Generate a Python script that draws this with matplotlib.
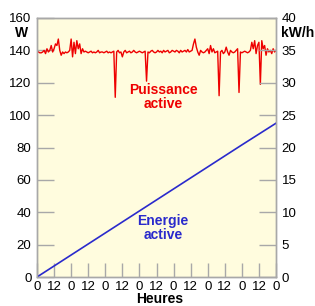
import numpy as np
import matplotlib
matplotlib.use("Agg")
import matplotlib.pyplot as plt

# Heures (0 a 168, une valeur par heure)
heures = list(range(0, 169))

# Puissance active (W), lue heure par heure
puissance = [
    139.5, 139, 138.5, 138.5, 139, 140, 138, 141, 139, 140, 143, 139,
    141, 144, 143, 147, 140, 137, 139, 138, 139, 138.5, 139, 140,
    147, 136, 145, 138, 146, 141, 144, 138, 141, 139, 139.5, 139,
    138.5, 139, 139.5, 138.5, 139, 138.5, 139, 140, 138.5, 139, 139, 138.5,
    139, 139.5, 138.5, 139, 138.5, 139, 139.5, 111, 139, 140, 138.5, 139,
    136, 139, 140, 138.5, 139, 139.5, 138.5, 139, 140, 139, 138.5, 139,
    139.5, 139, 138.5, 139, 139.5, 121, 139, 138.5, 139.5, 140, 139, 138.5,
    139, 140, 139, 139.5, 138.5, 140, 139, 139.5, 140, 138.5, 139, 140,
    139.5, 139, 140, 139.5, 138.5, 140, 139, 139.5, 140, 139, 140.5, 139,
    139.5, 140, 144, 147, 142, 139, 137, 140, 139, 138.5, 139, 140,
    141, 138, 143, 139, 141, 138.5, 139, 139.5, 112, 139, 140, 138,
    139, 142, 139, 137, 140, 139, 138.5, 139, 140, 141, 114, 139,
    138.5, 139, 139.5, 139, 138.5, 139, 140, 145, 141, 146, 138, 143,
    145, 119, 146, 141, 143, 137, 141, 139, 140, 138, 141, 139,
    140,
]

# Energie active (kW/h), cumul par jour
heures_jour = [0, 24, 48, 72, 96, 120, 144, 168]
energie = [0, 3.4, 6.8, 10.2, 13.6, 17.0, 20.4, 23.75]

ticks_x = list(range(0, 169, 12))
labels_x = ["0" if t % 24 == 0 else "12" for t in ticks_x]

plt.rcParams["font.family"] = ["Liberation Sans", "DejaVu Sans"]

fig = plt.figure(figsize=(3.15, 3.06), dpi=100)
ax = fig.add_axes([37 / 315, 29 / 306, 239 / 315, 259 / 306])
ax.set_facecolor("#FFFCDE")
ax2 = ax.twinx()

ax.plot(heures, puissance, color="#EE0000", lw=1.0)
ax2.plot(heures_jour, energie, color="#2A2ACC", lw=1.2)

ax.set_xlim(0, 168)
ax.set_ylim(0, 160)
ax2.set_ylim(0, 40)
ax.set_xticks(ticks_x)
ax.set_xticklabels(labels_x)
ax.set_yticks(range(0, 161, 20))
ax2.set_yticks(range(0, 41, 5))

gris = "#A8A8A8"
for a in (ax, ax2):
    for s in a.spines.values():
        s.set_color(gris)
        s.set_linewidth(1.0)
ax.tick_params(axis="x", direction="in", length=10, width=1, color=gris,
               labelsize=9.5, pad=3)
ax.tick_params(axis="y", direction="in", length=12, width=1, color=gris,
               labelsize=9.5, pad=4)
ax2.tick_params(axis="y", direction="in", length=12, width=1, color=gris,
                labelsize=9.5, pad=4)

ax.text(88.6, 111, "Puissance\nactive", color="#EE0000", fontsize=10,
        fontweight="bold", ha="center", va="center", linespacing=1.0)
ax.text(88.6, 30.5, "Energie\nactive", color="#2A2ACC", fontsize=10,
        fontweight="bold", ha="center", va="center", linespacing=1.0)

fig.text(22 / 315, 1 - 33 / 306, "W", fontsize=10, fontweight="bold",
         ha="center", va="center")
fig.text(281 / 315, 1 - 33 / 306, "kW/h", fontsize=10, fontweight="bold",
         ha="left", va="center")
fig.text(160 / 315, 0.0, "Heures", fontsize=10, fontweight="bold",
         ha="center", va="bottom")

fig.savefig("out.png", dpi=100)
